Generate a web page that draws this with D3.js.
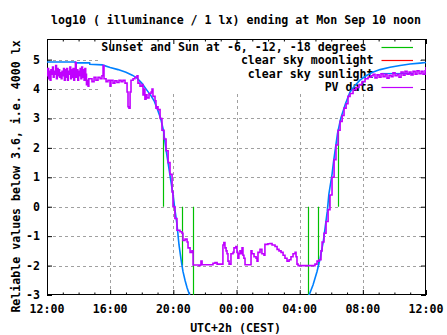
<!DOCTYPE html>
<html><head><meta charset="utf-8">
<script src="https://cdn.jsdelivr.net/npm/d3@7"></script>
<style>
html,body{margin:0;padding:0;background:#fff;}
svg text{font-family:"DejaVu Sans Mono","Liberation Mono",monospace;font-weight:bold;font-size:11.6px;fill:#000;white-space:pre;}
</style></head>
<body><svg id="c" width="447" height="335"></svg>
<script>
// ---------- data ----------
const titleText = "log10 ( illuminance / 1 lx) ending at Mon Sep 10 noon";
const xLabelText = "UTC+2h (CEST)";
const yLabelText = "Reliable values below 3.6, i.e. 4000 lx";
const xTickHours = [12, 16, 20, 24, 28, 32, 36];
const xTickLabels = ["12:00", "16:00", "20:00", "00:00", "04:00", "08:00", "12:00"];
const yTickValues = [-3, -2, -1, 0, 1, 2, 3, 4, 5];
const legendLabels = ["Sunset and Sun at -6, -12, -18 degrees ", "clear sky moonlight", "clear sky sunlight", "PV data"];
const seriesColors = ["#00c000", "#ff0000", "#0080ff", "#c000ff"];

// sun events (hour since midnight of Sep 9, impulse height)
const eventHours = [19.37, 19.96, 20.57, 21.27, 28.55, 29.18, 29.88, 30.41];
const eventValues = [2.5, 0.4, -2.0, -3.3, -3.3, -2.0, 0.4, 2.6];

// clear sky moonlight (below plotted range)
const moonData = [];

// clear sky sunlight
const sunData = [
 [12.0,4.92],[13.8,4.92],[13.81,4.89],[14.7,4.89],[14.71,4.84],[15.5,4.82],[16.0,4.73],[16.5,4.66],
 [17.0,4.57],[17.4,4.47],[17.7,4.37],[18.0,4.2],[18.3,3.98],[18.6,3.76],[18.8,3.58],[19.0,3.3],
 [19.2,3.0],[19.37,2.6],[19.55,1.9],[19.75,1.2],[19.98,0.4],[20.1,-0.1],[20.23,-0.6],[20.36,-1.3],
 [20.49,-1.8],[20.61,-2.2],[20.74,-2.5],[20.87,-2.75],[21.03,-3.0],[21.2,-3.3],
 [28.4,-3.3],[28.6,-3.0],[28.85,-2.65],[29.1,-2.2],[29.3,-1.75],[29.5,-1.17],[29.75,-0.15],[29.85,0.43],
 [30.05,1.1],[30.15,1.55],[30.4,2.5],[30.6,3.0],[30.9,3.5],[31.19,3.9],[31.5,4.12],[31.82,4.3],
 [32.2,4.45],[32.58,4.56],[33.09,4.66],[33.72,4.74],[34.36,4.8],[34.99,4.85],[35.62,4.88],[36.0,4.9]
];

// PV data
const pvData = [
 [12.00,4.45],[12.05,4.7],[12.10,4.35],[12.15,4.6],[12.20,4.3],[12.25,4.65],[12.30,4.5],[12.35,4.75],
 [12.40,4.4],[12.45,4.6],[12.50,4.5],[12.55,4.8],[12.60,4.35],[12.65,4.7],[12.70,4.45],[12.75,4.65],
 [12.80,4.4],[12.85,4.55],[12.90,4.35],[12.95,4.6],[13.00,4.45],[13.05,4.7],[13.10,4.3],[13.15,4.65],
 [13.20,4.4],[13.25,4.7],[13.30,4.3],[13.35,4.6],[13.40,4.5],[13.45,4.75],[13.50,4.35],[13.55,4.65],
 [13.60,4.4],[13.65,4.7],[13.70,4.3],[13.75,4.55],[13.80,4.9],[13.85,4.4],[13.90,4.65],[13.95,4.3],
 [14.00,4.6],[14.05,4.45],[14.10,4.7],[14.15,4.35],[14.20,4.75],[14.25,4.4],[14.30,4.65],[14.35,4.3],
 [14.40,4.7],[14.45,4.5],[14.5,4.15],[14.55,4.3],[14.6,4.1],[14.65,4.35],[14.72,4.35],[14.85,4.25],
 [14.98,4.4],[15.1,4.3],[15.23,4.4],[15.36,4.35],[15.48,4.45],[15.55,4.8],[15.61,4.35],[15.74,4.25],
 [15.86,4.3],[15.99,4.1],[16.05,4.3],[16.18,4.2],[16.3,4.28],[16.43,4.22],[16.56,4.3],[16.69,4.25],
 [16.81,4.3],[16.94,4.2],[17.07,3.9],[17.13,3.4],[17.19,3.35],[17.26,3.9],[17.32,4.3],[17.45,4.35],
 [17.57,4.4],[17.7,4.45],[17.76,4.2],[17.89,4.1],[18.02,4.15],[18.08,3.8],[18.14,4.0],[18.2,3.65],
 [18.27,3.8],[18.33,3.7],[18.46,3.85],[18.59,3.9],[18.65,4.0],[18.71,3.75],[18.84,3.6],[18.9,3.35],
 [18.97,3.4],[19.03,3.3],[19.16,3.0],[19.28,2.6],[19.41,2.3],[19.54,1.9],[19.67,1.5],[19.79,1.1],
 [19.92,0.5],[19.98,0.0],[20.1,-0.4],[20.23,-0.8],[20.42,-0.85],[20.55,-0.9],[20.61,-1.15],[20.74,-1.1],
 [20.87,-1.2],[20.93,-1.4],[21.06,-1.55],[21.18,-1.5],[21.25,-1.98],[21.63,-2.0],[21.69,-1.98],[21.75,-1.85],
 [21.82,-1.97],[22.45,-1.97],[22.51,-1.92],[22.64,-1.9],[22.77,-1.95],[23.08,-1.95],[23.14,-1.3],[23.2,-1.22],
 [23.27,-1.4],[23.34,-1.5],[23.4,-1.6],[23.46,-1.85],[23.53,-1.95],[23.65,-1.6],[23.78,-1.55],[23.84,-1.4],
 [23.96,-1.35],[24.03,-1.55],[24.09,-1.75],[24.15,-1.6],[24.22,-1.5],[24.28,-1.6],[24.35,-1.4],[24.41,-1.65],
 [24.47,-1.75],[24.54,-1.97],[24.86,-1.97],[24.92,-1.5],[24.98,-1.6],[25.11,-1.7],[25.24,-1.75],[25.3,-1.85],
 [25.36,-1.55],[25.49,-1.45],[25.61,-1.6],[25.74,-1.65],[25.8,-1.28],[25.99,-1.26],[26.12,-1.25],[26.25,-1.3],
 [26.44,-1.35],[26.57,-1.45],[26.69,-1.5],[26.82,-1.55],[26.95,-1.65],[27.07,-1.75],[27.2,-1.85],[27.33,-1.8],
 [27.45,-1.7],[27.58,-1.6],[27.71,-1.55],[27.77,-1.7],[27.83,-1.95],[27.9,-2.0],[28.85,-2.0],[28.97,-1.95],
 [29.1,-1.85],[29.23,-1.8],[29.35,-1.5],[29.42,-1.2],[29.54,-0.9],[29.67,-0.5],[29.8,-0.1],[29.92,0.4],
 [30.05,1.0],[30.18,1.6],[30.3,2.1],[30.43,2.6],[30.56,2.9],[30.69,3.1],[30.81,3.35],[30.94,3.5],
 [31.06,3.75],[31.19,3.85],[31.38,3.98],[31.57,4.05],[31.76,4.15],[31.95,4.25],[32.14,4.35],[32.33,4.4],
 [32.52,4.45],[32.65,4.5],[32.77,4.38],[32.9,4.48],[33.03,4.4],[33.15,4.52],[33.28,4.42],[33.41,4.5],
 [33.53,4.37],[33.66,4.47],[33.79,4.42],[33.91,4.55],[34.04,4.45],[34.17,4.5],[34.29,4.4],[34.42,4.58],
 [34.55,4.47],[34.67,4.6],[34.8,4.5],[34.93,4.58],[35.05,4.48],[35.18,4.6],[35.31,4.5],[35.43,4.62],
 [35.56,4.52],[35.69,4.6],[35.81,4.5],[35.94,4.62],[36.0,4.75]
];

// ---------- layout ----------
const W = 447, H = 335;
const M = {left: 47, right: 21, top: 39, bottom: 40};
const x = d3.scaleLinear().domain([12, 36]).range([M.left, W - M.right]);
const y = d3.scaleLinear().domain([-3, 5.7]).range([H - M.bottom, M.top]);
const svg = d3.select("#c");
const [x0, x1] = x.range(), [y0, y1] = y.range();

svg.append("defs").append("clipPath").attr("id", "plot")
  .append("rect").attr("x", x0).attr("y", y1).attr("width", x1 - x0).attr("height", y0 - y1);

// grid
const grid = svg.append("g").attr("stroke", "#a0a0a0").attr("stroke-width", 1).attr("stroke-dasharray", "3,3");
grid.selectAll(".gx").data(xTickHours.slice(1, -1)).join("line")
  .attr("x1", d => Math.round(x(d)) + 0.5).attr("x2", d => Math.round(x(d)) + 0.5)
  .attr("y1", y0).attr("y2", y1);
grid.selectAll(".gy").data(yTickValues.slice(1)).join("line")
  .attr("y1", d => Math.round(y(d)) + 0.5).attr("y2", d => Math.round(y(d)) + 0.5)
  .attr("x1", x0).attr("x2", x1);

// key area (hides grid)
const keyBox = {x: 98, y: y1 + 1, w: 322, h: 52};
svg.append("rect").attr("x", keyBox.x).attr("y", keyBox.y).attr("width", keyBox.w).attr("height", keyBox.h).attr("fill", "#fff");

// axes
const minorHours = d3.range(13, 36).filter(h => h % 4 !== 0);
function styleAxis(g) { g.select(".domain").remove(); g.selectAll("line").attr("stroke", "#000"); g.selectAll("text").remove(); }
svg.append("g").attr("transform", `translate(0,${y0})`).call(d3.axisBottom(x).tickValues(xTickHours).tickSize(-5)).call(styleAxis);
svg.append("g").attr("transform", `translate(0,${y0})`).call(d3.axisBottom(x).tickValues(minorHours).tickSize(-2.5)).call(styleAxis);
svg.append("g").attr("transform", `translate(0,${y1})`).call(d3.axisTop(x).tickValues(xTickHours).tickSize(-5)).call(styleAxis);
svg.append("g").attr("transform", `translate(0,${y1})`).call(d3.axisTop(x).tickValues(minorHours).tickSize(-2.5)).call(styleAxis);
svg.append("g").attr("transform", `translate(${x0},0)`).call(d3.axisLeft(y).tickValues(yTickValues).tickSize(-5)).call(styleAxis);
svg.append("g").attr("transform", `translate(${x1},0)`).call(d3.axisRight(y).tickValues(yTickValues).tickSize(-5)).call(styleAxis);

// tick labels
svg.append("g").selectAll("text").data(xTickHours).join("text")
  .attr("x", d => x(d)).attr("y", y0 + 18).attr("text-anchor", "middle")
  .text((d, i) => xTickLabels[i]);
svg.append("g").selectAll("text").data(yTickValues).join("text")
  .attr("x", x0 - 7).attr("y", d => y(d) + 4).attr("text-anchor", "end")
  .text(d => d3.format("d")(d).replace("\u2212", "-"));

// frame
svg.append("rect").attr("x", x0 + 0.5).attr("y", y1 + 0.5).attr("width", x1 - x0 - 1).attr("height", y0 - y1 - 1)
  .attr("fill", "none").attr("stroke", "#000").attr("stroke-width", 1);

// titles
svg.append("text").attr("x", 236).attr("y", 23.5).attr("text-anchor", "middle").text(titleText);
svg.append("text").attr("x", 235.5).attr("y", 331.5).attr("text-anchor", "middle").text(xLabelText);
svg.append("text").attr("transform", "translate(20,176.5) rotate(-90)").attr("text-anchor", "middle").text(yLabelText);

// legend
const key = svg.append("g");
legendLabels.forEach((lab, i) => {
  const ly = 46.7 + i * 13.33;
  key.append("text").attr("x", 373.5).attr("y", ly + 4.3).attr("text-anchor", "end").text(lab);
  key.append("line").attr("x1", 381.5).attr("x2", 413).attr("y1", Math.round(ly) + 0.5).attr("y2", Math.round(ly) + 0.5)
    .attr("stroke", seriesColors[i]).attr("stroke-width", 1.2);
});

// data
const plot = svg.append("g").attr("clip-path", "url(#plot)");
plot.selectAll(".ev").data(eventHours).join("line")
  .attr("x1", d => Math.round(x(d)) + 0.5).attr("x2", d => Math.round(x(d)) + 0.5)
  .attr("y1", y(0)).attr("y2", (d, i) => y(eventValues[i]))
  .attr("stroke", seriesColors[0]).attr("stroke-width", 1.2);

const line = d3.line().x(d => x(d[0])).y(d => y(d[1]));
plot.append("path").datum(moonData).attr("d", line).attr("fill", "none").attr("stroke", seriesColors[1]).attr("stroke-width", 1.2);
plot.append("path").datum(sunData).attr("d", line.curve(d3.curveLinear)).attr("fill", "none").attr("stroke", seriesColors[2]).attr("stroke-width", 1.6);
plot.append("path").datum(pvData).attr("d", d3.line().x(d => x(d[0])).y(d => y(d[1])).curve(d3.curveStepAfter))
  .attr("fill", "none").attr("stroke", seriesColors[3]).attr("stroke-width", 1.6);
</script></body></html>
